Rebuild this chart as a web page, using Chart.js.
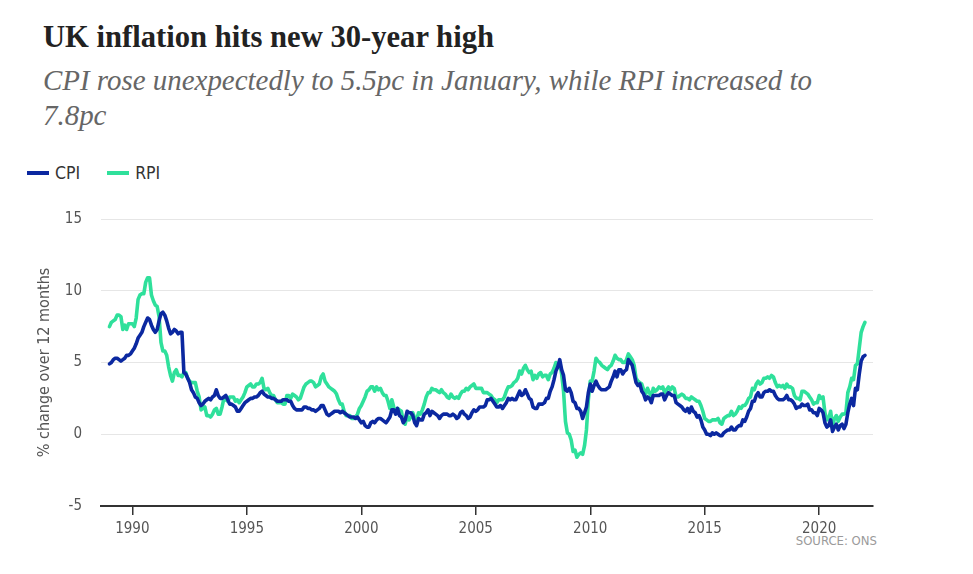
<!DOCTYPE html>
<html>
<head>
<meta charset="utf-8">
<script src="https://cdn.jsdelivr.net/npm/chart.js@4.4.1/dist/chart.umd.min.js"></script>
<style>
  html, body { margin:0; padding:0; background:#fff; width:973px; height:574px; overflow:hidden; }
  .serif { font-family: "Liberation Serif", "DejaVu Serif", serif; }
  .cond { font-family: "DejaVu Sans Condensed", "Liberation Sans Narrow", "Roboto", sans-serif; }
  #title { position:absolute; left:43px; top:22px; font-weight:700; color:#222; white-space:nowrap; font-size:28px; line-height:1; }
  #sub { position:absolute; left:43px; top:63px; font-style:italic; color:#666; white-space:nowrap; font-size:27px; line-height:35px; }
  #legend { position:absolute; left:27px; top:162px; height:22px; display:flex; align-items:center; font-size:17.5px; color:#333; }
  .item { display:flex; align-items:center; margin-right:27px; }
  .swatch { width:22px; height:4px; margin-right:6px; }
  #source { position:absolute; right:96px; top:533px; font-size:13px; color:#9a9a9a; white-space:nowrap; }
  #wrap { position:absolute; left:0; top:191px; width:973px; height:383px; }
</style>
</head>
<body>
<div id="title" class="serif"><span id="titleText">UK inflation hits new 30-year high</span></div>
<div id="sub" class="serif"><span id="subLine1">CPI rose unexpectedly to 5.5pc in January, while RPI increased to</span><br>7.8pc</div>
<div id="legend" class="cond"></div>
<div id="source" class="cond">SOURCE: ONS</div>
<div id="wrap"><canvas id="c" width="973" height="383"></canvas></div>
<script>
// ---- Data (monthly, 12-month % change, Jan 1989 – Jan 2022) ----
const startYear = 1989;
const cpi = [
  4.9,5.0,5.2,5.3,5.3,5.2,5.1,5.2,5.3,5.5,5.5,5.6,
  5.8,6.0,6.3,6.7,6.9,7.1,7.5,7.8,8.1,8.0,7.6,7.3,
  7.1,7.3,7.9,8.4,8.5,8.3,7.9,7.4,7.0,7.1,7.3,7.2,
  7.0,7.1,7.1,4.3,4.2,3.9,3.6,3.1,2.9,2.6,2.5,2.2,
  2.0,2.1,2.3,2.4,2.5,2.4,2.6,2.7,3.1,2.7,2.5,2.5,
  2.6,2.7,2.4,2.1,2.1,2.0,1.9,1.6,1.6,1.8,2.0,2.2,
  2.3,2.4,2.5,2.5,2.6,2.6,2.7,2.9,3.0,2.8,2.7,2.6,
  2.6,2.5,2.5,2.4,2.3,2.3,2.3,2.4,2.4,2.4,2.3,2.3,
  2.0,1.8,1.7,1.7,1.7,1.7,1.9,1.9,1.8,1.8,1.7,1.7,
  1.6,1.7,1.8,2.0,2.0,1.7,1.4,1.3,1.4,1.5,1.6,1.6,
  1.6,1.5,1.6,1.5,1.4,1.3,1.2,1.2,1.2,1.1,1.2,1.0,
  0.8,0.9,0.6,0.5,0.5,0.8,0.9,0.8,1.0,1.1,1.1,1.0,
  0.9,0.8,1.0,1.2,1.7,1.7,1.4,1.8,1.3,1.2,0.8,1.0,
  1.6,1.5,1.5,1.3,0.8,0.6,1.1,1.0,1.0,1.4,1.5,1.7,
  1.3,1.6,1.5,1.4,1.3,1.1,1.3,1.4,1.4,1.4,1.3,1.3,
  1.4,1.3,1.1,1.2,1.5,1.6,1.4,1.3,1.1,1.2,1.5,1.7,
  1.6,1.7,1.9,1.9,1.9,2.0,2.4,2.4,2.5,2.3,2.1,1.9,
  1.9,2.0,1.8,2.0,2.2,2.5,2.4,2.5,2.4,2.4,2.7,3.0,
  2.7,2.8,3.1,2.8,2.5,2.4,1.9,1.8,1.8,2.1,2.1,2.1,
  2.2,2.5,2.5,3.0,3.3,3.8,4.4,4.7,5.2,4.5,4.1,3.1,
  3.0,3.2,2.9,2.3,2.2,1.8,1.8,1.6,1.1,1.5,1.9,2.9,
  3.5,3.0,3.4,3.7,3.4,3.2,3.1,3.1,3.1,3.2,3.3,3.7,
  4.0,4.4,4.0,4.5,4.5,4.2,4.4,4.5,5.2,5.0,4.8,4.2,
  3.6,3.4,3.5,3.0,2.8,2.4,2.6,2.5,2.2,2.7,2.7,2.7,
  2.7,2.8,2.8,2.4,2.7,2.9,2.8,2.7,2.7,2.2,2.1,2.0,
  1.9,1.7,1.6,1.8,1.5,1.9,1.6,1.5,1.2,1.3,1.0,0.5,
  0.3,0.0,0.0,-0.1,0.1,0.0,0.1,0.0,-0.1,-0.1,0.1,0.2,
  0.3,0.3,0.5,0.3,0.3,0.5,0.6,0.6,1.0,0.9,1.2,1.6,
  1.8,2.3,2.3,2.7,2.9,2.6,2.6,2.9,3.0,3.0,3.1,3.0,
  3.0,2.7,2.5,2.4,2.4,2.4,2.5,2.7,2.4,2.4,2.3,2.1,
  1.8,1.9,1.9,2.1,2.0,2.0,2.1,1.7,1.7,1.5,1.5,1.3,
  1.8,1.7,1.5,0.8,0.5,0.6,1.0,0.2,0.5,0.7,0.3,0.6,
  0.7,0.4,0.7,1.5,2.1,2.5,2.0,3.2,3.1,4.2,5.1,5.4,
  5.5
];
const rpi = [
  7.5,7.8,7.9,8.0,8.3,8.3,8.2,7.3,7.6,7.3,7.7,7.7,
  7.7,7.5,8.1,9.4,9.7,9.8,9.8,10.6,10.9,10.9,9.7,9.3,
  9.0,8.9,8.2,6.4,5.8,5.8,5.5,4.7,4.1,3.7,4.3,4.5,
  4.1,4.1,4.0,4.3,4.3,3.9,3.7,3.6,3.6,3.6,3.0,2.6,
  1.7,1.8,1.9,1.3,1.3,1.2,1.4,1.7,1.8,1.4,1.4,1.9,
  2.5,2.4,2.3,2.6,2.6,2.6,2.3,2.4,2.2,2.4,2.6,2.9,
  3.3,3.4,3.5,3.3,3.3,3.5,3.5,3.6,3.9,3.2,3.1,3.2,
  2.9,2.7,2.7,2.4,2.2,2.2,2.2,2.1,2.1,2.7,2.7,2.5,
  2.8,2.7,2.6,2.4,2.5,2.9,3.3,3.5,3.6,3.7,3.7,3.6,
  3.3,3.4,3.5,4.0,4.2,3.7,3.5,3.3,3.2,3.1,3.0,2.8,
  2.4,2.1,2.1,1.6,1.3,1.3,1.3,1.1,1.1,1.2,1.4,1.8,
  2.0,2.3,2.6,3.0,3.1,3.3,3.3,3.0,3.3,3.1,3.2,2.9,
  2.7,2.7,2.3,1.8,2.4,1.9,1.5,1.8,1.7,1.6,0.9,0.7,
  1.3,1.0,1.2,1.5,1.1,1.0,1.5,1.4,1.7,2.1,2.6,2.9,
  2.9,3.2,3.1,3.1,3.0,2.9,3.1,2.9,2.8,2.6,2.5,2.8,
  2.6,2.5,2.6,2.5,2.8,3.0,3.0,3.2,3.1,3.3,3.4,3.5,
  3.2,3.2,3.2,3.2,2.9,2.9,2.9,2.8,2.7,2.5,2.4,2.2,
  2.4,2.4,2.4,2.6,3.0,3.3,3.3,3.4,3.6,3.7,3.9,4.4,
  4.2,4.6,4.8,4.5,4.3,4.4,3.8,4.1,3.9,4.2,4.3,4.0,
  4.1,4.1,3.8,4.2,4.3,4.6,5.0,4.8,5.0,4.2,3.0,0.9,
  0.1,0.0,-0.4,-1.2,-1.1,-1.6,-1.4,-1.3,-1.4,-0.8,0.3,2.4,
  3.7,3.7,4.4,5.3,5.1,5.0,4.8,4.7,4.6,4.5,4.7,4.8,
  5.1,5.5,5.3,5.2,5.2,5.0,5.0,5.2,5.6,5.4,5.2,4.8,
  3.9,3.7,3.6,3.5,3.1,2.8,3.2,2.9,2.6,3.2,3.0,3.1,
  3.3,3.2,3.3,2.9,3.1,3.3,3.1,3.3,3.2,2.6,2.6,2.7,
  2.8,2.7,2.5,2.5,2.4,2.6,2.5,2.4,2.3,2.3,2.0,1.6,
  1.1,1.0,0.9,0.9,1.0,1.0,1.0,1.1,0.8,0.7,1.1,1.2,
  1.3,1.3,1.6,1.3,1.4,1.6,1.9,1.8,2.0,2.0,2.2,2.5,
  2.6,3.2,3.1,3.5,3.7,3.5,3.6,3.9,3.9,4.0,3.9,4.1,
  4.0,3.6,3.3,3.4,3.3,3.4,3.2,3.5,3.3,3.3,3.2,2.7,
  2.5,2.5,2.4,3.0,3.0,2.9,2.8,2.6,2.4,2.1,2.2,2.2,
  2.7,2.5,2.6,1.5,1.0,1.1,1.6,0.5,1.1,1.3,0.9,1.2,
  1.4,1.4,1.5,2.9,3.3,3.9,3.8,4.8,4.9,6.0,7.1,7.5,
  7.8
];
const seriesNames = ['CPI', 'RPI'];
const seriesColors = ['#0b28a0', '#2fe09b'];
const tickYears = [1990, 1995, 2000, 2005, 2010, 2015, 2020];
const yTicks = [-5, 0, 5, 10, 15];
const yTitle = '% change over 12 months';

// ---- text fitting ----
function fitWidth(el, span, target) {
  let fs = parseFloat(getComputedStyle(el).fontSize);
  const w = span.getBoundingClientRect().width;
  el.style.fontSize = (fs * target / w).toFixed(2) + 'px';
}
fitWidth(document.getElementById('title'), document.getElementById('titleText'), 451);
fitWidth(document.getElementById('sub'), document.getElementById('subLine1'), 769);

// ---- legend ----
const legend = document.getElementById('legend');
seriesNames.forEach((n, i) => {
  const it = document.createElement('div'); it.className = 'item';
  const sw = document.createElement('div'); sw.className = 'swatch'; sw.style.background = seriesColors[i];
  const tx = document.createElement('span'); tx.textContent = n;
  it.appendChild(sw); it.appendChild(tx); legend.appendChild(it);
});

// ---- chart ----
const condFamily = '"DejaVu Sans Condensed", "Liberation Sans Narrow", Roboto, sans-serif';
const toPoints = vals => vals.map((v, i) => ({ x: startYear + i / 12, y: v }));

new Chart(document.getElementById('c'), {
  type: 'line',
  data: {
    datasets: [
      { label: seriesNames[0], data: toPoints(cpi), borderColor: seriesColors[0], backgroundColor: seriesColors[0] },
      { label: seriesNames[1], data: toPoints(rpi), borderColor: seriesColors[1], backgroundColor: seriesColors[1] }
    ]
  },
  options: {
    responsive: false,
    animation: false,
    layout: { padding: { top: 0, right: 100, bottom: 0, left: 0 } },
    elements: {
      line: { borderWidth: 3.6, tension: 0, borderJoinStyle: 'round', borderCapStyle: 'round' },
      point: { radius: 0, hoverRadius: 0 }
    },
    plugins: { legend: { display: false }, tooltip: { enabled: false } },
    scales: {
      x: {
        type: 'linear',
        min: 1988.63, max: 2022.35,
        afterBuildTicks: s => { s.ticks = tickYears.map(v => ({ value: v })); },
        afterFit: s => { s.height = 68; },
        ticks: { color: '#555', padding: 5, maxRotation: 0, autoSkip: false,
                 font: { family: condFamily, size: 15 }, callback: v => String(v) },
        grid: { drawOnChartArea: false, drawTicks: true, tickLength: 9, color: '#333', lineWidth: 1.5 },
        border: { display: true, color: '#333', width: 2 }
      },
      y: {
        min: -5, max: 15,
        afterBuildTicks: s => { s.ticks = yTicks.map(v => ({ value: v })); },
        afterFit: s => { s.width = 101; },
        ticks: { color: '#555', padding: 19, font: { family: condFamily, size: 15 } },
        grid: { color: '#e6e6e6', lineWidth: 1, drawTicks: false },
        border: { display: false },
        title: { display: true, text: yTitle, color: '#555', padding: { top: 35, bottom: 0 },
                 font: { family: condFamily, size: 16 } }
      }
    }
  }
});
</script>
</body>
</html>
